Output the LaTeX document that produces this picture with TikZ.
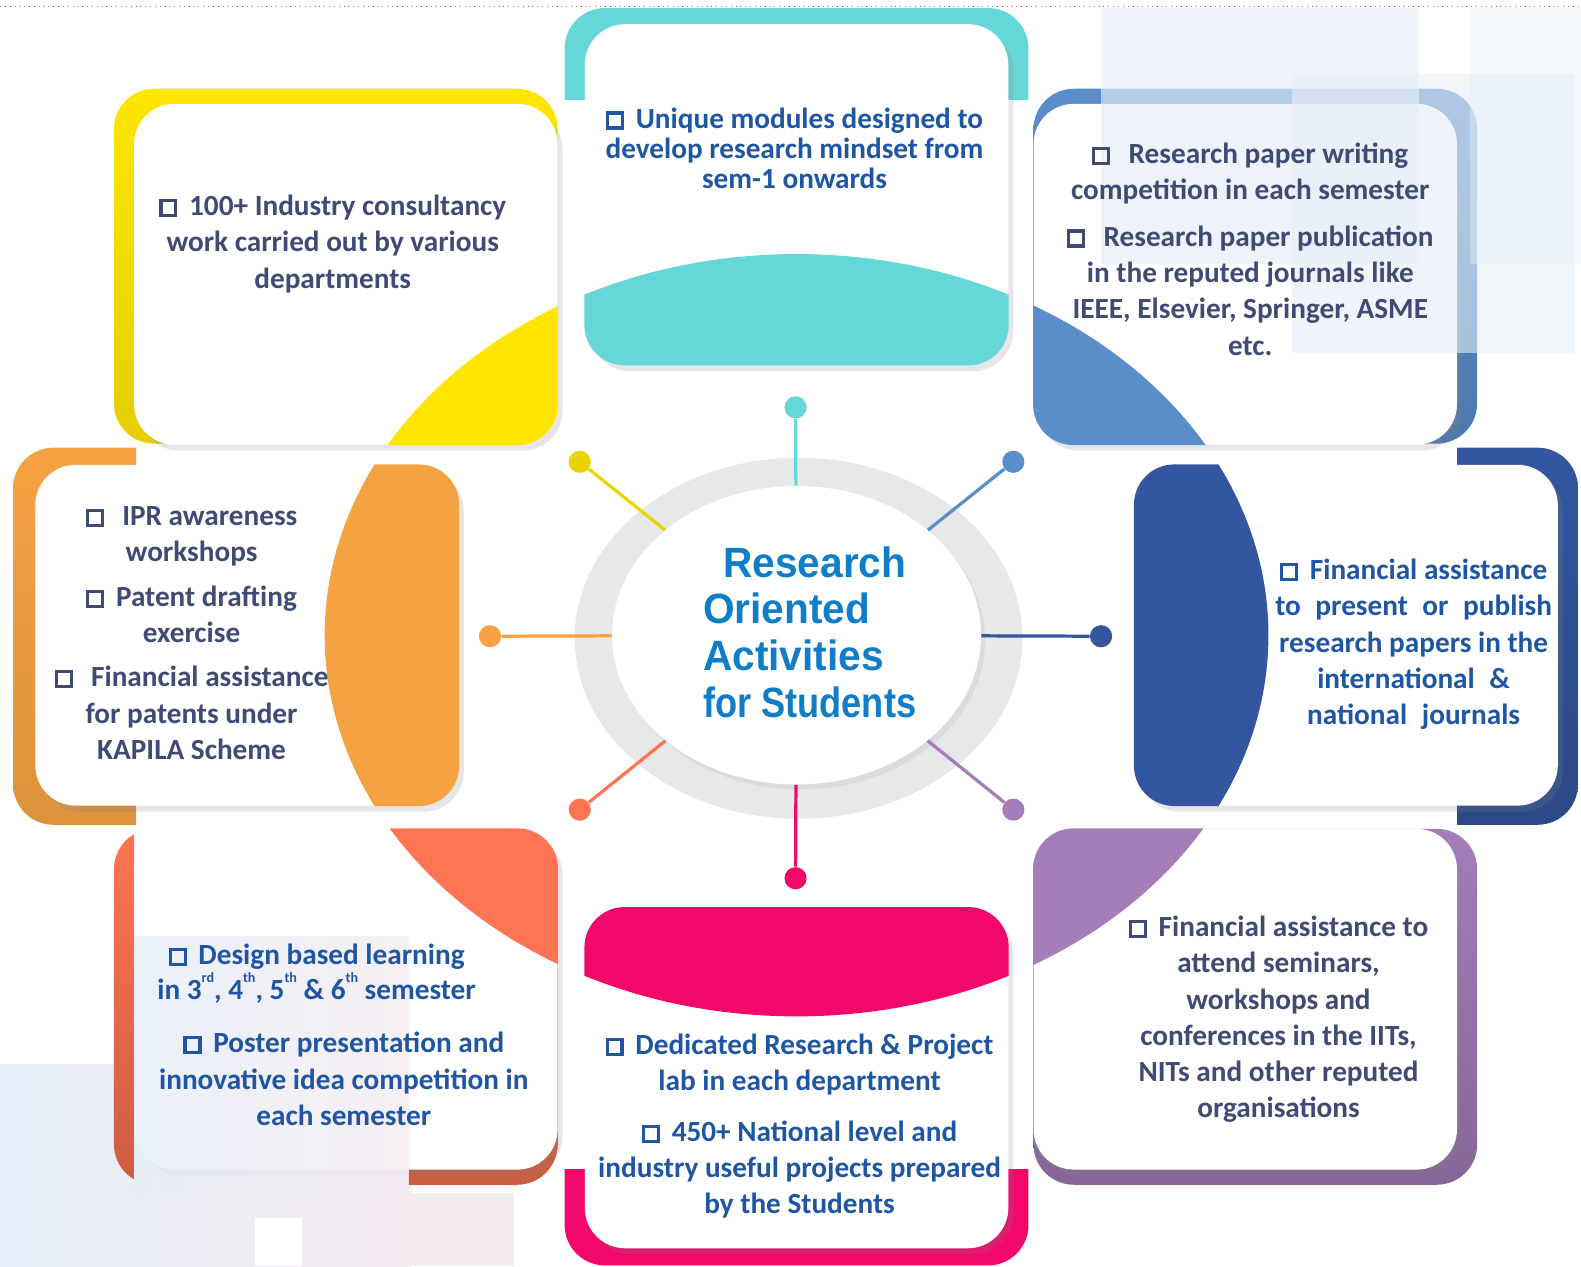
\documentclass[tikz,border=0pt]{standalone}
\usepackage{fontspec}
\usepackage{graphicx}
\setmainfont{Carlito}
\newfontfamily\titlefont[FakeStretch=0.96]{Liberation Sans}
\usetikzlibrary{shapes.geometric,shadows}

\definecolor{cyellow}{HTML}{FFE500}
\definecolor{ccyan}{HTML}{66D7D8}
\definecolor{cblue}{HTML}{5A8ECB}
\definecolor{corange}{HTML}{F5A243}
\definecolor{cnavy}{HTML}{34569F}
\definecolor{ccoral}{HTML}{FF7452}
\definecolor{cpink}{HTML}{F2076B}
\definecolor{cpurple}{HTML}{A47DB9}
\definecolor{txtgray}{HTML}{404B75}
\definecolor{txtblue}{HTML}{1F56A4}
\definecolor{titleblue}{HTML}{0F7DC8}
\definecolor{ringgray}{HTML}{E7E8EA}
\definecolor{paleblue}{HTML}{E6EEF7}
\definecolor{palepink}{HTML}{F5ECF2}

% small hollow square used as bullet
\newcommand\bx{\raisebox{0.06em}{\setlength\fboxsep{0pt}\setlength\fboxrule{0.11em}\fbox{\rule{0pt}{0.4em}\hspace{0.4em}}}\hspace{0.4em}}
% tiny raised ordinal
\newcommand\ord[1]{\raisebox{0.6em}{\fontsize{7}{7}\selectfont #1}}

\begin{document}
\begin{tikzpicture}[x=0.5pt,y=-0.5pt,
    card/.style={rectangle, fill=white, rounded corners=20pt, minimum width=210pt, minimum height=169pt, inner sep=0pt, drop shadow={shadow xshift=2.5pt, shadow yshift=-3pt, opacity=0.2}},
    frame/.style={rounded corners=20pt},
    dot/.style={circle, minimum size=11pt, inner sep=0pt},
    spoke/.style={line width=1.6pt},
    txt/.style={align=center, inner sep=0pt, font=\fontsize{14.5}{18}\selectfont\bfseries},
]
    \useasboundingbox (0,0) rectangle (1568,1256);

    %Background
    \shade[left color=paleblue, right color=palepink] (0,1056) rectangle (408,1256);
    \fill[palepink] (408,1183) rectangle (510,1256);
    \fill[white] (253,1208) rectangle (300,1256);
    \draw[black!55, dotted] (0,6) -- (1568,6);

    %Frames
    \shade[frame, top color=cyellow, bottom color=cyellow!90!black] (113,88) rectangle (553,440);
    \begin{scope}
        \clip (0,0) rectangle (1568,99);
        \fill[frame, ccyan] (560,8) rectangle (1020,360);
    \end{scope}
    \shade[frame, top color=cblue, bottom color=cblue!85!black] (1025,88) rectangle (1465,440);
    \begin{scope}
        \clip (0,0) rectangle (135,1256);
        \shade[frame, top color=corange, bottom color=corange!90!black] (13,444) rectangle (455,818);
    \end{scope}
    \begin{scope}
        \clip (1445,0) rectangle (1568,1256);
        \shade[frame, top color=cnavy, bottom color=cnavy!85!black] (1125,444) rectangle (1565,818);
    \end{scope}
    \begin{scope}
        \clip (0,0) rectangle (133,1256) (405,0) rectangle (1568,1256);
        \shade[frame, top color=ccoral, bottom color=ccoral!80!black] (113,822) rectangle (553,1175);
    \end{scope}
    \begin{scope}
        \clip (0,1160) rectangle (1568,1256);
        \fill[frame, cpink] (560,900) rectangle (1020,1255);
    \end{scope}
    \shade[frame, top color=cpurple, bottom color=cpurple!82!black] (1025,822) rectangle (1465,1175);

    %Nodes
    \node[card] (tlbox) at (343,272) {};
    \node[card] (tbox) at (790,193) {};
    \node[card] (trbox) at (1235,272) {};
    \node[card] (lbox) at (245,630) {};
    \node[card] (rbox) at (1335,630) {};
    \node[card] (blbox) at (343,991) {};
    \node[card] (bbox) at (790,1069) {};
    \node[card] (brbox) at (1235,991) {};

    % parts of the big ring inside each card
    \begin{scope}\clip[rounded corners=20pt] (tlbox.south west) rectangle (tlbox.north east);
        \fill[cyellow] (790,630) ellipse [x radius=468, y radius=378];\end{scope}
    \begin{scope}\clip[rounded corners=20pt] (tbox.south west) rectangle (tbox.north east);
        \fill[ccyan] (790,630) ellipse [x radius=468, y radius=378];\end{scope}
    \begin{scope}\clip[rounded corners=20pt] (trbox.south west) rectangle (trbox.north east);
        \fill[cblue] (790,630) ellipse [x radius=468, y radius=378];\end{scope}
    \begin{scope}\clip[rounded corners=20pt] (lbox.south west) rectangle (lbox.north east);
        \fill[corange] (790,630) ellipse [x radius=468, y radius=378];\end{scope}
    \begin{scope}\clip[rounded corners=20pt] (rbox.south west) rectangle (rbox.north east);
        \fill[cnavy] (790,630) ellipse [x radius=468, y radius=378];\end{scope}
    \begin{scope}\clip[rounded corners=20pt] (blbox.south west) rectangle (blbox.north east);
        \fill[ccoral] (790,630) ellipse [x radius=468, y radius=378];\end{scope}
    \begin{scope}\clip[rounded corners=20pt] (bbox.south west) rectangle (bbox.north east);
        \fill[cpink] (790,630) ellipse [x radius=468, y radius=378];\end{scope}
    \begin{scope}\clip[rounded corners=20pt] (brbox.south west) rectangle (brbox.north east);
        \fill[cpurple] (790,630) ellipse [x radius=468, y radius=378];\end{scope}

    % faint panels lying over the picture
    \fill[paleblue, opacity=0.65] (1092,8) rectangle (1407,262);
    \fill[paleblue, opacity=0.6] (1281,73) rectangle (1562,350);
    \fill[paleblue, opacity=0.45] (1458,8) rectangle (1568,262);
    \shade[left color=paleblue, right color=palepink, opacity=0.8] (133,929) rectangle (405,1183);

    \fill[ringgray] (792,633) ellipse [x radius=222, y radius=179];
    \node[ellipse, fill=white, minimum width=183pt, minimum height=148pt, inner sep=0pt,
          drop shadow={shadow xshift=2pt, shadow yshift=-2.5pt, opacity=0.12}] (hub) at (790,630) {};
    \node[anchor=west, inner sep=0pt, align=left, text=titleblue,
          font=\titlefont\bfseries\fontsize{21}{23.2}\selectfont] (title) at (697,627)
          {\hspace*{10pt}Research\\Oriented\\Activities\\\scalebox{0.89}[1]{for Students}};

    \node[dot, fill=ccyan] (dt) at (789,404) {};
    \node[dot, fill=cyellow!92!black] (dtl) at (575,458) {};
    \node[dot, fill=cblue] (dtr) at (1005,458) {};
    \node[dot, fill=corange] (dl) at (486,631) {};
    \node[dot, fill=cnavy] (dr) at (1092,631) {};
    \node[dot, fill=ccoral] (dbl) at (575,803) {};
    \node[dot, fill=cpurple] (dbr) at (1005,803) {};
    \node[dot, fill=cpink] (db) at (789,871) {};

    \node[txt, text=txtgray] (tltxt) at (330,242) {\bx 100+ Industry consultancy\\work carried out by various\\departments};
    \node[txt, text=txtblue, font=\fontsize{14.5}{15}\selectfont\bfseries] (ttxt) at (788,147)
        {\bx Unique modules designed to\\develop research mindset from\\sem-1 onwards};
    \node[txt, text=txtgray] (trtxt) at (1240,247) {\bx\ Research paper writing\\competition in each semester\\[5pt]
        \bx\ Research paper publication\\in the reputed journals like\hspace*{12pt}\\IEEE, Elsevier, Springer, ASME\\etc.};
    \node[txt, text=txtgray] (ltxt) at (190,628) {\bx\ IPR awareness\\workshops\\[4pt]\bx Patent drafting\\exercise\\[4pt]
        \bx\ Financial assistance\\for patents under\\KAPILA Scheme};
    \node[txt, text=txtblue] (rtxt) at (1402,639) {\bx Financial assistance\\to\enspace present\enspace or\enspace publish\\
        research papers in the\\international\enspace\&\\national\enspace journals};
    \node[txt, text=txtblue, font=\fontsize{14.5}{17.5}\selectfont\bfseries] (bltxt) at (314,966)
        {\bx Design based learning\\in 3\ord{rd}, 4\ord{th}, 5\ord{th} \& 6\ord{th} semester};
    \node[txt, text=txtblue] (bltxtb) at (341,1070) {\bx Poster presentation and\\innovative idea competition in\\each semester};
    \node[txt, text=txtblue] (btxt) at (793,1117) {\bx Dedicated Research \& Project\\lab in each department\\[7pt]
        \bx 450+ National level and\\industry useful projects prepared\\by the Students};
    \node[txt, text=txtgray] (brtxt) at (1268,1011) {\bx Financial assistance to\\attend seminars,\\workshops and\\
        conferences in the IITs,\\NITs and other reputed\\organisations};

    %Lines
    \draw[spoke, ccyan] (hub) -- (dt);
    \draw[spoke, cyellow!92!black] (hub) -- (dtl);
    \draw[spoke, cblue] (hub) -- (dtr);
    \draw[spoke, corange] (hub) -- (dl);
    \draw[spoke, cnavy] (hub) -- (dr);
    \draw[spoke, ccoral] (hub) -- (dbl);
    \draw[spoke, cpurple] (hub) -- (dbr);
    \draw[spoke, cpink] (hub) -- (db);
\end{tikzpicture}
\end{document}
